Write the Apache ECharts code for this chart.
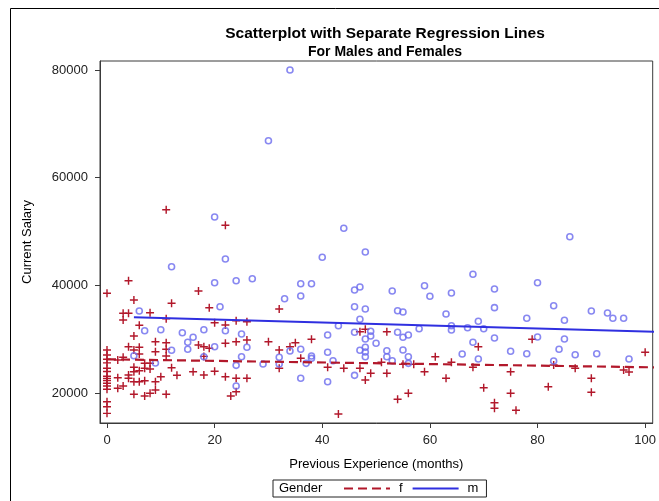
<!DOCTYPE html>
<html>
<head>
<meta charset="utf-8">
<script src="https://cdn.jsdelivr.net/npm/echarts@6/dist/echarts.min.js"></script>
<style>
html,body{margin:0;padding:0;background:#fff;}
#chart{width:659px;height:501px;}
</style>
</head>
<body>
<div id="chart"></div>
<script>
// ---- data ----
const titleText = "Scatterplot with Separate Regression Lines";
const subtitleText = "For Males and Females";
const xName = "Previous Experience (months)";
const yName = "Current Salary";
const groupTitle = "Gender";
const groupNames = ["f", "m"];
const xTicks = [0, 20, 40, 60, 80, 100];
const yTicks = [20000, 40000, 60000, 80000];

// Females: [previous experience (months), current salary]
const femalePoints = [
  [0,38520],[0,27990],[0,27060],[0,26260],[0,25600],[0,24590],[0,24000],[0,23100],[0,22700],
  [0,22300],[0,21800],[0,21300],[0,20700],[0,18380],[0,17450],[0,16220],
  [2,26130],[2,22840],[2,20870],[3,34800],[3,33560],[3,26630],[3,21300],[4,40860],[4,34800],
  [4,28600],[4,23340],[4,22730],[5,37280],[5,30590],[5,27990],[5,24770],[5,23960],[5,22100],
  [5,19760],[6,32580],[6,28490],[6,27240],[6,24140],[6,22100],[7,25510],[7,24590],[7,22280],
  [7,19440],[8,34920],[8,25510],[8,24460],[8,19940],[9,29530],[9,27680],[9,22100],[9,20560],
  [10,23030],[11,33800],[11,29340],[11,28120],[11,26870],[11,19760],[11,54050],[12,36660],
  [12,24700],[13,23280],[16,23960],[17,38950],[17,28920],[18,28600],[18,26800],[18,23340],
  [19,35850],[19,28300],[20,33060],[20,24030],[22,51150],[22,32630],[22,29230],[22,23030],
  [23,19440],[24,33430],[24,29530],[24,22730],[24,20240],[26,33240],[26,29850],[26,22730],
  [30,29530],[32,35600],[32,27990],[32,24590],[34,28600],[35,29340],[36,26440],[38,29980],
  [41,24770],[43,16100],[44,24590],[47,31390],[47,24590],[48,31830],[48,22410],[49,23660],
  [51,25700],[52,31390],[52,23660],[54,18830],[55,25330],[56,19940],[57,25330],[59,23960],
  [61,26740],[63,22730],[64,25700],[68,24770],[69,28600],[70,20980],[72,18200],[72,17160],
  [75,23960],[75,19940],[76,16790],[79,29980],[82,21170],[83,25200],[87,24590],[90,22730],
  [90,20130],[96,24270],[97,23900],[100,27560]
];

// Males: [previous experience (months), current salary]
const malePoints = [
  [30,66870],[20,52690],[34,80000],[44,50590],[48,46190],[86,49030],[12,43460],[22,44890],
  [20,40490],[24,40860],[27,41230],[33,37520],[6,35230],[21,36030],[7,31570],[10,31760],
  [14,31200],[18,31760],[22,31570],[25,30960],[15,29420],[16,30350],[20,28600],[15,28120],
  [12,27930],[26,28490],[5,26930],[18,26740],[25,26740],[9,25570],[24,25140],[29,25390],
  [32,26630],[32,25390],[24,21300],
  [40,45210],[36,40300],[38,40300],[36,38020],[46,39130],[47,39690],[53,38950],[59,39930],
  [60,37960],[64,38580],[46,36030],[48,35600],[54,35290],[55,35050],[63,34680],[47,33690],
  [43,32500],[46,31280],[49,31460],[49,30590],[48,30030],[41,30770],[54,31280],[55,30350],
  [56,30770],[58,31940],[64,32500],[64,31700],[50,29230],[36,28120],[34,27800],[41,27560],
  [47,27930],[48,28490],[48,27620],[48,26740],[38,26870],[38,26440],[52,27860],[52,26740],
  [55,27990],[56,26740],[53,26000],[42,26000],[37,25510],[56,25510],[66,27240],[36,22730],
  [41,22100],[46,23280],
  [68,42050],[80,40490],[72,39320],[72,35850],[83,36220],[90,35230],[93,34860],[94,33880],
  [96,33880],[78,33880],[85,33500],[69,33320],[67,32130],[70,31940],[72,30220],[80,30400],
  [85,30030],[68,29420],[84,28120],[75,27750],[78,27300],[87,27110],[91,27300],[69,26320],
  [83,25940],[97,26320]
];

// Regression line end points
const femaleLine = [[0,26260],[102,24760]];
const maleLine = [[5,34060],[102,31370]];

// ---- chart ----
const RED = '#b2182b';
const BLUE_PT = '#6a6aee';
const BLUE_LINE = '#2f2fe0';
const FONT = 'Liberation Sans, Arial, sans-serif';
const plusPath = 'path://M-0.9,-5H0.9V-0.9H5V0.9H0.9V5H-0.9V0.9H-5V-0.9H-0.9Z';

const chart = echarts.init(document.getElementById('chart'), null, {renderer: 'canvas'});
chart.setOption({
  animation: false,
  backgroundColor: '#ffffff',
  textStyle: {fontFamily: FONT},
  title: {
    text: titleText,
    subtext: subtitleText,
    left: 380,
    top: 21,
    textAlign: 'center',
    itemGap: 3,
    textStyle: {fontSize: 15.5, fontWeight: 'bold', color: '#000', fontFamily: FONT},
    subtextStyle: {fontSize: 14, fontWeight: 'bold', color: '#000', fontFamily: FONT}
  },
  grid: {
    left: 100, right: -2, top: 61, bottom: 78,
    show: true, borderColor: '#3a3a3a', borderWidth: 1, backgroundColor: 'transparent'
  },
  xAxis: {
    type: 'value',
    min: -1.3, max: 101.4,
    name: xName,
    nameLocation: 'middle',
    nameGap: 35,
    nameTextStyle: {fontSize: 13, color: '#000', fontFamily: FONT},
    axisLine: {show: true, onZero: false, lineStyle: {color: '#3a3a3a', width: 1}},
    axisTick: {show: true, length: 5, customValues: xTicks, lineStyle: {color: '#3a3a3a'}},
    axisLabel: {customValues: xTicks, margin: 11, fontSize: 13, color: '#222', fontFamily: FONT,
                formatter: function (v) { return String(v); }},
    splitLine: {show: false}
  },
  yAxis: {
    type: 'value',
    min: 14427, max: 81672,
    name: yName,
    nameLocation: 'middle',
    nameGap: 66,
    nameTextStyle: {fontSize: 13, color: '#000', fontFamily: FONT},
    axisLine: {show: true, onZero: false, lineStyle: {color: '#3a3a3a', width: 1}},
    axisTick: {show: true, length: 5, customValues: yTicks, lineStyle: {color: '#3a3a3a'}},
    axisLabel: {customValues: yTicks, margin: 12, fontSize: 13, color: '#222', fontFamily: FONT,
                formatter: function (v) { return String(v); }},
    splitLine: {show: false}
  },
  legend: {
    data: groupNames,
    left: 273, top: 480,
    orient: 'horizontal',
    padding: [2, 8, 2, 70],
    itemWidth: 46, itemHeight: 14, itemGap: 9,
    borderColor: '#222', borderWidth: 1,
    backgroundColor: '#fff',
    itemStyle: {opacity: 0},
    textStyle: {fontSize: 13, color: '#000', fontFamily: FONT, padding: [0, 0, 0, 4]},
    selectedMode: false
  },
  graphic: [
    {type: 'rect', silent: true, z: -1,
     shape: {x: 10.5, y: 8.5, width: 700, height: 600},
     style: {fill: 'none', stroke: '#000', lineWidth: 1}},
    {type: 'text', left: 279, top: 482, z: 100,
     style: {text: groupTitle, font: '13px ' + FONT, fill: '#000'}}
  ],
  series: [
    {name: groupNames[0], type: 'line', data: femaleLine, symbol: 'none', z: 5,
     lineStyle: {color: RED, width: 2.2, type: [9, 5]}, itemStyle: {color: RED},
     emphasis: {disabled: true}, silent: true},
    {name: groupNames[1], type: 'line', data: maleLine, symbol: 'none', z: 5,
     lineStyle: {color: BLUE_LINE, width: 2}, itemStyle: {color: BLUE_LINE},
     emphasis: {disabled: true}, silent: true},
    {name: groupNames[0], type: 'scatter', data: femalePoints, symbol: plusPath, symbolSize: 8,
     itemStyle: {color: RED, opacity: 1}, z: 3, emphasis: {disabled: true}},
    {name: groupNames[1], type: 'scatter', data: malePoints, symbol: 'circle', symbolSize: 6,
     itemStyle: {color: 'rgba(0,0,0,0)', borderColor: BLUE_PT, borderWidth: 1.6}, z: 4,
     emphasis: {disabled: true}}
  ]
});
</script>
</body>
</html>
